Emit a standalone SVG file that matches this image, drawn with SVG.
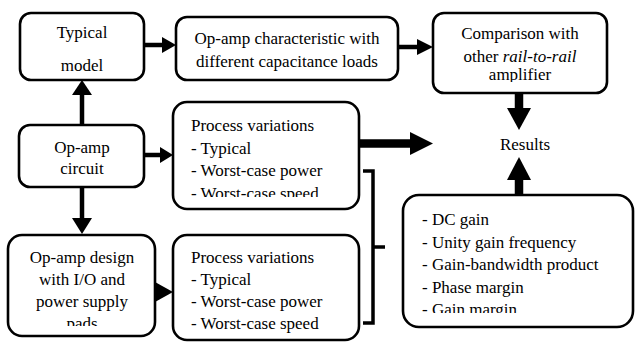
<svg xmlns="http://www.w3.org/2000/svg" width="635" height="343" viewBox="0 0 635 343">
<style>
.box{fill:#fff;stroke:#000;stroke-width:2.6}
text{font-family:'Liberation Serif','Times New Roman',Times,'DejaVu Serif',serif;font-size:17px;fill:#000}
.c{text-anchor:middle}
.ln{stroke:#000;fill:none}
.thin{stroke-width:4.5}
.thick{stroke-width:8.5}
.head{fill:#000;stroke:none}
</style>
<defs>
<clipPath id="clipCmp"><rect x="433" y="13" width="174" height="69"/></clipPath>
<clipPath id="clipP1"><rect x="173" y="102" width="186" height="95"/></clipPath>
<clipPath id="clipDes"><rect x="8" y="235" width="147" height="91"/></clipPath>
<clipPath id="clipMet"><rect x="403" y="195" width="231" height="118"/></clipPath>
</defs>
<rect width="635" height="343" fill="#fff"/>

<g id="connectors">
<line class="ln thin" x1="144" y1="45" x2="163" y2="45"/>
<polygon class="head" points="162,37 176,45 162,53"/>
<line class="ln thin" x1="398" y1="47" x2="418" y2="47"/>
<polygon class="head" points="417,39 433,47 417,55"/>
<line class="ln thin" x1="82" y1="125" x2="82" y2="94"/>
<polygon class="head" points="72,95 82,80 92,95"/>
<line class="ln thin" x1="144" y1="155" x2="161" y2="155"/>
<polygon class="head" points="160,147 173,155 160,163"/>
<line class="ln thin" x1="82" y1="187" x2="82" y2="219"/>
<polygon class="head" points="72,218 82,234 92,218"/>
<polygon class="head" points="155,282 173,292 155,302"/>
<line class="ln thick" x1="359" y1="143.5" x2="411" y2="143.5"/>
<polygon class="head" points="410,132 433,143.5 410,155"/>
<line class="ln thick" x1="519" y1="93" x2="519" y2="109"/>
<polygon class="head" points="507,108 519,130 531,108"/>
<line class="ln thick" x1="519" y1="195" x2="519" y2="179"/>
<polygon class="head" points="507,180 519,157 531,180"/>
<path class="ln" stroke-width="3.5" d="M363,171 H373 V323 H363 M373,247 H385"/>
</g>

<g id="typical">
<rect class="box" x="20" y="13" width="124" height="67" rx="11"/>
<text class="c" x="82" y="38">Typical</text>
<text class="c" x="82" y="71">model</text>
</g>

<g id="characteristic">
<rect class="box" x="176" y="17" width="222" height="63" rx="11"/>
<text class="c" x="287" y="44">Op-amp characteristic with</text>
<text class="c" x="287" y="67">different capacitance loads</text>
</g>

<g id="comparison">
<rect class="box" x="433" y="13" width="174" height="80" rx="11"/>
<g clip-path="url(#clipCmp)">
<text class="c" x="520" y="39">Comparison with</text>
<text class="c" x="520" y="62">other <tspan font-style="italic">rail-to-rail</tspan></text>
<text class="c" x="520" y="80">amplifier</text>
</g>
</g>

<g id="results">
<text class="c" x="525" y="150">Results</text>
</g>

<g id="circuit">
<rect class="box" x="19" y="125" width="125" height="62" rx="11"/>
<text class="c" x="82" y="153">Op-amp</text>
<text class="c" x="82" y="174">circuit</text>
</g>

<g id="process1">
<rect class="box" x="173" y="102" width="186" height="107" rx="14"/>
<g clip-path="url(#clipP1)">
<text x="191" y="131">Process variations</text>
<text x="191" y="153.5">- Typical</text>
<text x="191" y="176">- Worst-case power</text>
<text x="191" y="198.5">- Worst-case speed</text>
</g>
</g>

<g id="design">
<rect class="box" x="8" y="235" width="147" height="101" rx="14"/>
<g clip-path="url(#clipDes)">
<text class="c" x="82" y="263">Op-amp design</text>
<text class="c" x="82" y="285">with I/O and</text>
<text class="c" x="82" y="307">power supply</text>
<text class="c" x="82" y="329">pads</text>
</g>
</g>

<g id="process2">
<rect class="box" x="173" y="235" width="186" height="105" rx="14"/>
<text x="191" y="263">Process variations</text>
<text x="191" y="285">- Typical</text>
<text x="191" y="307">- Worst-case power</text>
<text x="191" y="329">- Worst-case speed</text>
</g>

<g id="metrics">
<rect class="box" x="403" y="195" width="230" height="132" rx="16"/>
<g clip-path="url(#clipMet)">
<text x="422" y="225">- DC gain</text>
<text x="422" y="247.5">- Unity gain frequency</text>
<text x="422" y="270">- Gain-bandwidth product</text>
<text x="422" y="292.5">- Phase margin</text>
<text x="422" y="315">- Gain margin</text>
</g>
</g>
</svg>
